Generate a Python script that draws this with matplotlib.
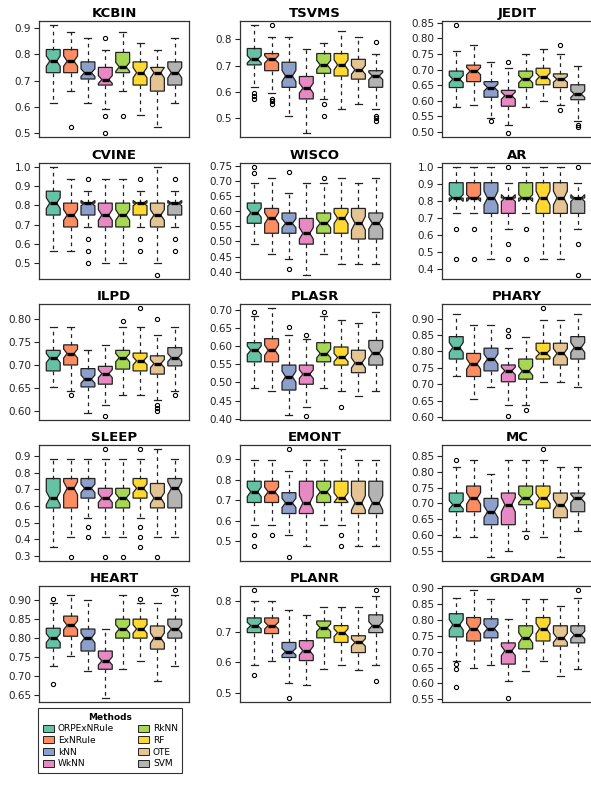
import numpy as np
import matplotlib
matplotlib.use("Agg")
import matplotlib.pyplot as plt
from matplotlib.patches import Patch

methods = ["ORPExNRule", "ExNRule", "kNN", "WkNN", "RkNN", "RF", "OTE", "SVM"]
colors = ["#66C2A5", "#FC8D62", "#8DA0CB", "#E78AC3", "#A6D854", "#FFD92F", "#E5C494", "#B3B3B3"]

# each row: lower whisker, Q1, median, Q3, upper whisker  (one row per method)
kcbin = [[0.614, 0.730, 0.774, 0.818, 0.910], [0.660, 0.730, 0.774, 0.818, 0.885],
         [0.614, 0.706, 0.730, 0.771, 0.862], [0.593, 0.683, 0.704, 0.750, 0.818],
         [0.660, 0.730, 0.752, 0.807, 0.885], [0.569, 0.683, 0.730, 0.771, 0.841],
         [0.525, 0.660, 0.730, 0.750, 0.818], [0.614, 0.683, 0.730, 0.771, 0.862]]
kcbin_out = [[], [0.525], [], [0.863, 0.567, 0.502], [0.567], [], [], []]
kcbin_ticks = ["0.5", "0.6", "0.7", "0.8", "0.9"]

tsvms = [[0.619, 0.703, 0.724, 0.765, 0.853], [0.596, 0.681, 0.724, 0.746, 0.809],
         [0.511, 0.618, 0.661, 0.713, 0.809], [0.446, 0.574, 0.615, 0.659, 0.765],
         [0.574, 0.671, 0.703, 0.746, 0.786], [0.534, 0.661, 0.703, 0.746, 0.830],
         [0.555, 0.649, 0.684, 0.724, 0.809], [0.534, 0.618, 0.661, 0.681, 0.746]]
tsvms_out = [[0.596, 0.586, 0.575], [0.853, 0.575, 0.565, 0.553], [], [], [0.555, 0.511], [], [],
             [0.788, 0.511, 0.500, 0.490]]
tsvms_ticks = ["0.5", "0.6", "0.7", "0.8"]

jedit = [[0.579, 0.642, 0.669, 0.695, 0.760], [0.587, 0.661, 0.695, 0.714, 0.778],
         [0.545, 0.611, 0.642, 0.661, 0.723], [0.523, 0.582, 0.616, 0.633, 0.704],
         [0.579, 0.642, 0.669, 0.695, 0.749], [0.598, 0.651, 0.677, 0.704, 0.767],
         [0.587, 0.642, 0.669, 0.686, 0.751], [0.534, 0.603, 0.621, 0.651, 0.712]]
jedit_out = [[0.842], [], [0.535], [0.723, 0.497], [], [], [0.778, 0.569], [0.523, 0.516]]
jedit_ticks = ["0.50", "0.55", "0.60", "0.65", "0.70", "0.75", "0.80", "0.85"]

cvine = [[0.5625, 0.75, 0.8125, 0.875, 1.0], [0.5625, 0.6875, 0.75, 0.8125, 0.9375],
         [0.6875, 0.75, 0.8125, 0.8125, 0.875], [0.5, 0.6875, 0.75, 0.8125, 0.9375],
         [0.5, 0.6875, 0.75, 0.8125, 0.9375], [0.6875, 0.75, 0.8125, 0.8125, 0.875],
         [0.5, 0.6875, 0.75, 0.8125, 1.0], [0.6875, 0.75, 0.8125, 0.8125, 0.875]]
cvine_out = [[], [], [0.9375, 0.625, 0.5625, 0.5], [], [], [0.9375, 0.625, 0.5625], [0.4375],
             [0.9375, 0.625, 0.5625]]
cvine_ticks = ["0.5", "0.6", "0.7", "0.8", "0.9", "1.0"]

wisco = [[0.491, 0.560, 0.595, 0.627, 0.693], [0.458, 0.527, 0.577, 0.609, 0.711],
         [0.441, 0.527, 0.560, 0.594, 0.660], [0.390, 0.491, 0.527, 0.576, 0.693],
         [0.458, 0.527, 0.560, 0.594, 0.693], [0.425, 0.527, 0.577, 0.609, 0.711],
         [0.425, 0.508, 0.560, 0.609, 0.693], [0.425, 0.508, 0.560, 0.594, 0.711]]
wisco_out = [[0.745, 0.727], [], [0.728, 0.409], [], [0.711], [], [], []]
wisco_ticks = ["0.40", "0.45", "0.50", "0.55", "0.60", "0.65", "0.70", "0.75"]

ar = [[0.727, 0.818, 0.818, 0.909, 1.0], [0.727, 0.818, 0.818, 0.909, 1.0],
      [0.455, 0.727, 0.818, 0.909, 1.0], [0.636, 0.727, 0.818, 0.818, 0.909],
      [0.727, 0.818, 0.818, 0.909, 1.0], [0.455, 0.727, 0.818, 0.909, 1.0],
      [0.455, 0.727, 0.818, 0.909, 1.0], [0.636, 0.727, 0.818, 0.818, 0.909]]
ar_out = [[0.636, 0.455], [0.636, 0.455], [], [1.0, 0.545, 0.455], [0.636, 0.455], [], [],
          [1.0, 0.545, 0.364]]
ar_ticks = ["0.4", "0.5", "0.6", "0.7", "0.8", "0.9", "1.0"]

ilpd = [[0.652, 0.687, 0.715, 0.732, 0.784], [0.642, 0.700, 0.725, 0.744, 0.784],
        [0.594, 0.652, 0.669, 0.692, 0.732], [0.612, 0.658, 0.681, 0.697, 0.744],
        [0.635, 0.691, 0.716, 0.732, 0.784], [0.635, 0.687, 0.709, 0.726, 0.784],
        [0.623, 0.680, 0.703, 0.720, 0.766], [0.642, 0.698, 0.716, 0.738, 0.784]]
ilpd_out = [[], [0.635], [], [0.589], [0.796], [0.824], [0.800, 0.612, 0.605, 0.600], [0.635]]
ilpd_ticks = ["0.60", "0.65", "0.70", "0.75", "0.80"]

plasr = [[0.484, 0.557, 0.589, 0.610, 0.684], [0.475, 0.557, 0.589, 0.621, 0.705],
         [0.411, 0.479, 0.516, 0.548, 0.632], [0.432, 0.495, 0.523, 0.548, 0.621],
         [0.484, 0.557, 0.580, 0.610, 0.684], [0.475, 0.548, 0.569, 0.598, 0.673],
         [0.463, 0.527, 0.554, 0.589, 0.664], [0.475, 0.548, 0.581, 0.616, 0.695]]
plasr_out = [[0.696], [], [0.653], [0.632, 0.408], [0.695], [0.431], [], []]
plasr_ticks = ["0.40", "0.45", "0.50", "0.55", "0.60", "0.65", "0.70"]

phary = [[0.724, 0.777, 0.812, 0.845, 0.913], [0.656, 0.724, 0.762, 0.794, 0.880],
         [0.691, 0.741, 0.777, 0.810, 0.880], [0.637, 0.708, 0.741, 0.759, 0.810],
         [0.637, 0.716, 0.741, 0.777, 0.845], [0.708, 0.777, 0.794, 0.825, 0.896],
         [0.708, 0.759, 0.794, 0.825, 0.896], [0.691, 0.777, 0.812, 0.845, 0.913]]
phary_out = [[], [], [], [0.865, 0.847, 0.605], [0.622], [0.931], [], []]
phary_ticks = ["0.60", "0.65", "0.70", "0.75", "0.80", "0.85", "0.90"]

sleep = [[0.353, 0.588, 0.647, 0.765, 0.882], [0.412, 0.588, 0.706, 0.765, 0.882],
         [0.529, 0.647, 0.706, 0.765, 0.882], [0.412, 0.588, 0.647, 0.706, 0.882],
         [0.412, 0.588, 0.647, 0.706, 0.882], [0.529, 0.647, 0.706, 0.765, 0.882],
         [0.412, 0.588, 0.647, 0.735, 0.941], [0.412, 0.588, 0.706, 0.765, 0.882]]
sleep_out = [[], [0.294], [0.471, 0.412], [0.941, 0.294], [0.294], [0.941, 0.471, 0.412, 0.353],
             [0.294], []]
sleep_ticks = ["0.3", "0.4", "0.5", "0.6", "0.7", "0.8", "0.9"]

emont = [[0.581, 0.689, 0.741, 0.793, 0.895], [0.581, 0.689, 0.741, 0.793, 0.895],
         [0.529, 0.635, 0.687, 0.737, 0.841], [0.477, 0.635, 0.687, 0.793, 0.895],
         [0.581, 0.689, 0.741, 0.793, 0.895], [0.581, 0.689, 0.713, 0.793, 0.949],
         [0.477, 0.635, 0.687, 0.793, 0.895], [0.477, 0.635, 0.687, 0.793, 0.895]]
emont_out = [[0.529, 0.477], [0.529], [0.949, 0.424], [], [], [0.529, 0.477], [], []]
emont_ticks = ["0.5", "0.6", "0.7", "0.8", "0.9"]

mc = [[0.593, 0.674, 0.696, 0.733, 0.816], [0.593, 0.674, 0.716, 0.755, 0.837],
      [0.532, 0.633, 0.674, 0.716, 0.794], [0.550, 0.633, 0.696, 0.733, 0.837],
      [0.612, 0.696, 0.716, 0.755, 0.837], [0.593, 0.685, 0.716, 0.755, 0.837],
      [0.532, 0.655, 0.696, 0.733, 0.816], [0.612, 0.674, 0.716, 0.733, 0.816]]
mc_out = [[0.837], [], [], [], [0.593], [0.871], [], []]
mc_ticks = ["0.55", "0.60", "0.65", "0.70", "0.75", "0.80", "0.85"]

heart = [[0.726, 0.774, 0.800, 0.826, 0.893], [0.753, 0.805, 0.834, 0.858, 0.913],
         [0.713, 0.766, 0.800, 0.824, 0.900], [0.643, 0.718, 0.740, 0.766, 0.824],
         [0.718, 0.800, 0.824, 0.850, 0.913], [0.740, 0.800, 0.824, 0.850, 0.892],
         [0.687, 0.771, 0.800, 0.832, 0.892], [0.726, 0.800, 0.824, 0.850, 0.913]]
heart_out = [[0.903, 0.680], [], [], [], [], [0.903], [], [0.926]]
heart_ticks = ["0.65", "0.70", "0.75", "0.80", "0.85", "0.90"]

planr = [[0.590, 0.697, 0.720, 0.745, 0.800], [0.606, 0.694, 0.720, 0.745, 0.800],
         [0.532, 0.616, 0.635, 0.665, 0.771], [0.526, 0.606, 0.638, 0.671, 0.755],
         [0.580, 0.680, 0.713, 0.735, 0.781], [0.590, 0.665, 0.697, 0.720, 0.781],
         [0.574, 0.632, 0.665, 0.687, 0.781], [0.590, 0.697, 0.720, 0.755, 0.816]]
planr_out = [[0.835, 0.560], [], [0.485], [], [], [], [], [0.835, 0.540]]
planr_ticks = ["0.5", "0.6", "0.7", "0.8"]

grdam = [[0.670, 0.747, 0.785, 0.820, 0.871], [0.648, 0.734, 0.773, 0.808, 0.894],
         [0.658, 0.744, 0.773, 0.804, 0.868], [0.607, 0.661, 0.703, 0.728, 0.804],
         [0.638, 0.709, 0.744, 0.782, 0.868], [0.670, 0.734, 0.773, 0.808, 0.868],
         [0.623, 0.718, 0.744, 0.782, 0.846], [0.645, 0.728, 0.753, 0.782, 0.871]]
grdam_out = [[0.660, 0.645, 0.590], [], [], [0.555], [], [], [], [0.894]]
grdam_ticks = ["0.55", "0.60", "0.65", "0.70", "0.75", "0.80", "0.85", "0.90"]

panels = [("KCBIN", kcbin, kcbin_out, kcbin_ticks), ("TSVMS", tsvms, tsvms_out, tsvms_ticks),
          ("JEDIT", jedit, jedit_out, jedit_ticks), ("CVINE", cvine, cvine_out, cvine_ticks),
          ("WISCO", wisco, wisco_out, wisco_ticks), ("AR", ar, ar_out, ar_ticks),
          ("ILPD", ilpd, ilpd_out, ilpd_ticks), ("PLASR", plasr, plasr_out, plasr_ticks),
          ("PHARY", phary, phary_out, phary_ticks), ("SLEEP", sleep, sleep_out, sleep_ticks),
          ("EMONT", emont, emont_out, emont_ticks), ("MC", mc, mc_out, mc_ticks),
          ("HEART", heart, heart_out, heart_ticks), ("PLANR", planr, planr_out, planr_ticks),
          ("GRDAM", grdam, grdam_out, grdam_ticks)]

n_runs = 50  # notch half width = 1.58 * IQR / sqrt(n), as in R


def make_stats(five, outs):
    st = []
    for (lo, q1, med, q3, hi), fl in zip(five, outs):
        half = 1.58 * (q3 - q1) / np.sqrt(n_runs)
        st.append(dict(whislo=lo, q1=q1, med=med, q3=q3, whishi=hi,
                       fliers=np.array(fl), cilo=med - half, cihi=med + half))
    return st


W, H = 591, 789
fig = plt.figure(figsize=(W / 100, H / 100), dpi=100)

col_x = [39, 240, 442]
row_y = [21, 163, 304, 445, 586]
ax_w, ax_h = 150, 116

for i, (name, five, outs, ticks) in enumerate(panels):
    r, c = divmod(i, 3)
    ax = fig.add_axes([col_x[c] / W, 1 - (row_y[r] + ax_h) / H, ax_w / W, ax_h / H])
    res = ax.bxp(make_stats(five, outs), positions=range(1, 9), widths=0.8, capwidths=0.4,
                 shownotches=True, patch_artist=True,
                 boxprops=dict(edgecolor="#222222", linewidth=0.9),
                 whiskerprops=dict(color="#222222", linestyle=(0, (3, 3)), linewidth=0.9),
                 capprops=dict(color="#222222", linewidth=0.9),
                 medianprops=dict(color="black", linewidth=2.4, solid_capstyle="butt"),
                 flierprops=dict(marker="o", markersize=3, markerfacecolor="none",
                                 markeredgecolor="black", markeredgewidth=0.8))
    for box, col in zip(res["boxes"], colors):
        box.set_facecolor(col)
    vals = [v for row in five for v in row] + [v for fl in outs for v in fl]
    lo, hi = min(vals), max(vals)
    pad = 0.04 * (hi - lo)
    ax.set_ylim(lo - pad, hi + pad)
    ax.set_xlim(0.18, 8.82)
    ax.set_xticks([])
    ax.set_yticks([float(t) for t in ticks])
    ax.set_yticklabels(ticks)
    ax.tick_params(axis="y", labelsize=7.5, length=3.5, width=0.8, pad=2, colors="#222222")
    for s in ax.spines.values():
        s.set_linewidth(0.9)
        s.set_color("#333333")
    ax.set_title(name, fontsize=9.5, fontweight="bold", pad=3)

handles = [Patch(facecolor=col, edgecolor="#222222", linewidth=0.7) for col in colors]
leg = fig.legend(handles, methods, loc="upper left", bbox_to_anchor=(38 / W, 1 - 708 / H),
                 ncol=2, fontsize=6.5, title="Methods", title_fontproperties=dict(weight="bold", size=6.5),
                 frameon=True, fancybox=False, edgecolor="black", handlelength=1.3,
                 handleheight=0.8, labelspacing=0.3, columnspacing=2.6, borderpad=0.5,
                 handletextpad=0.4, borderaxespad=0)
leg.get_frame().set_linewidth(0.8)

fig.savefig("out.png", dpi=100)
